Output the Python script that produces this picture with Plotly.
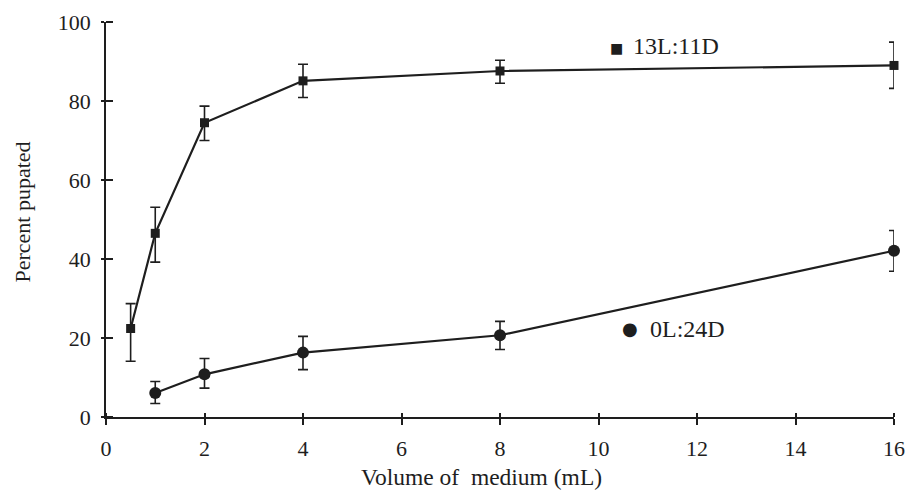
import plotly.graph_objects as go

# Data
x_lit = [0.5, 1, 2, 4, 8, 16]
y_lit = [22.4, 46.5, 74.5, 85.1, 87.6, 89.0]
lit_upper = [28.7, 53.1, 78.7, 89.3, 90.3, 94.9]
lit_lower = [14.1, 39.2, 70.0, 80.9, 84.5, 83.2]

x_dark = [1, 2, 4, 8, 16]
y_dark = [6.1, 10.8, 16.3, 20.7, 42.1]
dark_upper = [9.0, 14.8, 20.4, 24.2, 47.2]
dark_lower = [3.4, 7.3, 12.0, 17.1, 36.9]

x_ticks = [0, 2, 4, 6, 8, 10, 12, 14, 16]
y_ticks = [0, 20, 40, 60, 80, 100]

series_names = ["13L:11D", "0L:24D"]

ink = "#1e1e1e"
font_family = "Liberation Serif, Times New Roman, serif"

fig = go.Figure()

fig.add_trace(go.Scatter(
    x=x_lit, y=y_lit, mode="lines+markers", name=series_names[0],
    line=dict(color=ink, width=2.2),
    marker=dict(symbol="square", size=9, color=ink),
    error_y=dict(type="data", symmetric=False,
                 array=[u - v for u, v in zip(lit_upper, y_lit)],
                 arrayminus=[v - l for v, l in zip(y_lit, lit_lower)],
                 color=ink, thickness=1.6, width=5),
    cliponaxis=False, showlegend=False,
))

fig.add_trace(go.Scatter(
    x=x_dark, y=y_dark, mode="lines+markers", name=series_names[1],
    line=dict(color=ink, width=2.2),
    marker=dict(symbol="circle", size=12, color=ink),
    error_y=dict(type="data", symmetric=False,
                 array=[u - v for u, v in zip(dark_upper, y_dark)],
                 arrayminus=[v - l for v, l in zip(y_dark, dark_lower)],
                 color=ink, thickness=1.6, width=5),
    cliponaxis=False, showlegend=False,
))

# series labels (glyph + text)
fig.add_annotation(x=10.36, y=93.4, xref="x", yref="y", xanchor="center", yanchor="middle",
                   text="■", showarrow=False,
                   font=dict(family="DejaVu Sans", size=14, color=ink))
fig.add_annotation(x=10.66, y=93.8, xref="x", yref="y", xanchor="left", yanchor="middle",
                   text=series_names[0], showarrow=False,
                   font=dict(family=font_family, size=24, color=ink))
fig.add_annotation(x=10.64, y=22.4, xref="x", yref="y", xanchor="center", yanchor="middle",
                   text="●", showarrow=False,
                   font=dict(family="DejaVu Sans", size=18, color=ink))
fig.add_annotation(x=11.0, y=22.3, xref="x", yref="y", xanchor="left", yanchor="middle",
                   text=series_names[1], showarrow=False,
                   font=dict(family=font_family, size=24, color=ink))

# axis titles
fig.add_annotation(x=0.476, y=0, xref="paper", yref="paper", xanchor="center", yanchor="middle",
                   yshift=-60, text="Volume of  medium (mL)", showarrow=False,
                   font=dict(family=font_family, size=23.5, color=ink))
fig.add_annotation(x=0, y=0.5, xref="paper", yref="paper", xanchor="center", yanchor="middle",
                   xshift=-84, yshift=7, textangle=-90, text="Percent pupated", showarrow=False,
                   font=dict(family=font_family, size=22, color=ink))

fig.update_xaxes(
    range=[0, 16], tickvals=x_ticks, ticktext=[str(t) for t in x_ticks],
    showline=True, linecolor=ink, linewidth=1.5,
    ticks="outside", ticklen=6, tickcolor=ink, tickwidth=1.5,
    minor=dict(tickvals=x_ticks, ticks="inside", ticklen=4, tickcolor=ink, tickwidth=1.5, showgrid=False),
    ticklabelstandoff=5, automargin=False,
    showgrid=False, zeroline=False,
    tickfont=dict(family=font_family, size=22, color=ink),
)
fig.update_yaxes(
    range=[0, 100], tickvals=y_ticks, ticktext=[str(t) for t in y_ticks],
    showline=True, linecolor=ink, linewidth=1.5,
    ticks="outside", ticklen=3, tickcolor=ink, tickwidth=1.5,
    minor=dict(tickvals=y_ticks, ticks="inside", ticklen=7, tickcolor=ink, tickwidth=1.5, showgrid=False),
    ticklabelstandoff=6, automargin=False,
    showgrid=False, zeroline=False,
    tickfont=dict(family=font_family, size=22, color=ink),
)

fig.update_layout(
    width=914, height=491,
    margin=dict(l=106, r=20, t=22, b=74),
    paper_bgcolor="white", plot_bgcolor="white",
)

fig.write_html("out.html", config={"displayModeBar": False},
               post_script="document.body.style.margin='0';document.body.style.overflow='hidden';")
